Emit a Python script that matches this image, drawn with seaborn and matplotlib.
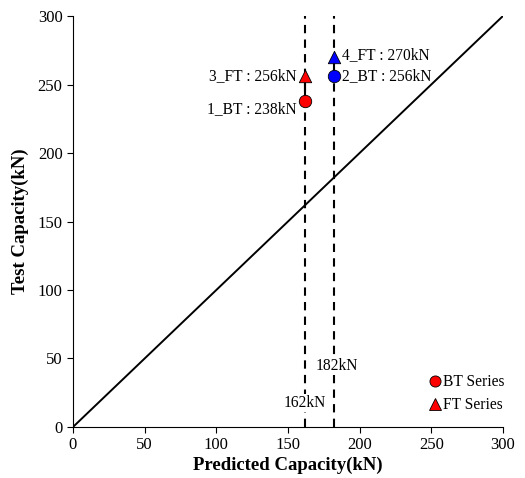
import matplotlib
matplotlib.use("Agg")
import matplotlib.pyplot as plt
import seaborn as sns
import pandas as pd
from matplotlib.lines import Line2D

sns.set_style("ticks")
plt.rcParams['font.family'] = ['Liberation Serif', 'DejaVu Serif']
plt.rcParams['text.color'] = 'black'
plt.rcParams['axes.labelcolor'] = 'black'
plt.rcParams['xtick.color'] = 'black'
plt.rcParams['ytick.color'] = 'black'

specimens = ["1_BT", "2_BT", "3_FT", "4_FT"]
series = ["BT", "BT", "FT", "FT"]
predicted = [162, 182, 162, 182]
test = [238, 256, 256, 270]
colors = ["red", "blue", "red", "blue"]
guide_x = [162, 182]
guide_labels = ["162kN", "182kN"]

df = pd.DataFrame({"spec": specimens, "series": series, "pred": predicted,
                   "test": test, "color": colors})

fig = plt.figure(figsize=(5.25, 4.78), dpi=100)
ax = fig.add_axes([0.139, 0.1067, 0.819, 0.8598])

# 1:1 line
sns.lineplot(x=[0, 300], y=[0, 300], ax=ax, color="black", linewidth=1.4)

# guide lines
for gx in guide_x:
    ax.plot([gx, gx], [0, 300], color="black", linestyle=(0, (4, 3)), linewidth=1.5, zorder=1)

# connecting segments between pairs
for gx in guide_x:
    sub = df[df.pred == gx]
    ax.plot(sub.pred, sub.test, color="black", linewidth=1.5, zorder=2)

markers = {"BT": "o", "FT": "^"}
for _, r in df.iterrows():
    sns.scatterplot(x=[r.pred], y=[r.test], ax=ax, marker=markers[r.series],
                    color=r.color, s=80, edgecolor="black", linewidth=0.6, zorder=3)

# annotations
fs = 11.2
ax.text(156, 238, "1_BT : 238kN", ha="right", va="top", fontsize=fs)
ax.text(156, 256, "3_FT : 256kN", ha="right", va="center", fontsize=fs)
ax.text(188, 271.5, "4_FT : 270kN", ha="left", va="center", fontsize=fs)
ax.text(188, 256, "2_BT : 256kN", ha="left", va="center", fontsize=fs)
ax.text(162, 17.5, guide_labels[0], ha="center", va="center", fontsize=fs,
        bbox=dict(facecolor="white", edgecolor="none", pad=1))
ax.text(184, 44.5, guide_labels[1], ha="center", va="center", fontsize=fs,
        bbox=dict(facecolor="white", edgecolor="none", pad=1))

ax.set_xlim(0, 300)
ax.set_ylim(0, 300)
ax.set_xticks(range(0, 301, 50))
ax.set_yticks(range(0, 301, 50))
ax.tick_params(direction="out", labelsize=12, length=4, color="black")
for s in ["top", "right"]:
    ax.spines[s].set_visible(False)
for s in ["left", "bottom"]:
    ax.spines[s].set_color("black")

ax.set_xlabel("Predicted Capacity(kN)", fontsize=13.5, fontweight="bold", labelpad=2)
ax.set_ylabel("Test Capacity(kN)", fontsize=13.5, fontweight="bold", labelpad=6)

handles = [Line2D([], [], marker="o", color="red", markeredgecolor="black", markeredgewidth=0.6,
                  linestyle="none", markersize=8),
           Line2D([], [], marker="^", color="red", markeredgecolor="black", markeredgewidth=0.6,
                  linestyle="none", markersize=8)]
ax.legend(handles, ["BT Series", "FT Series"], loc="lower right", frameon=False,
          fontsize=11.2, handletextpad=-0.1, handlelength=1.2, bbox_to_anchor=(1.035, 0.0),
          labelspacing=0.45)

fig.savefig("out.png", dpi=100)
